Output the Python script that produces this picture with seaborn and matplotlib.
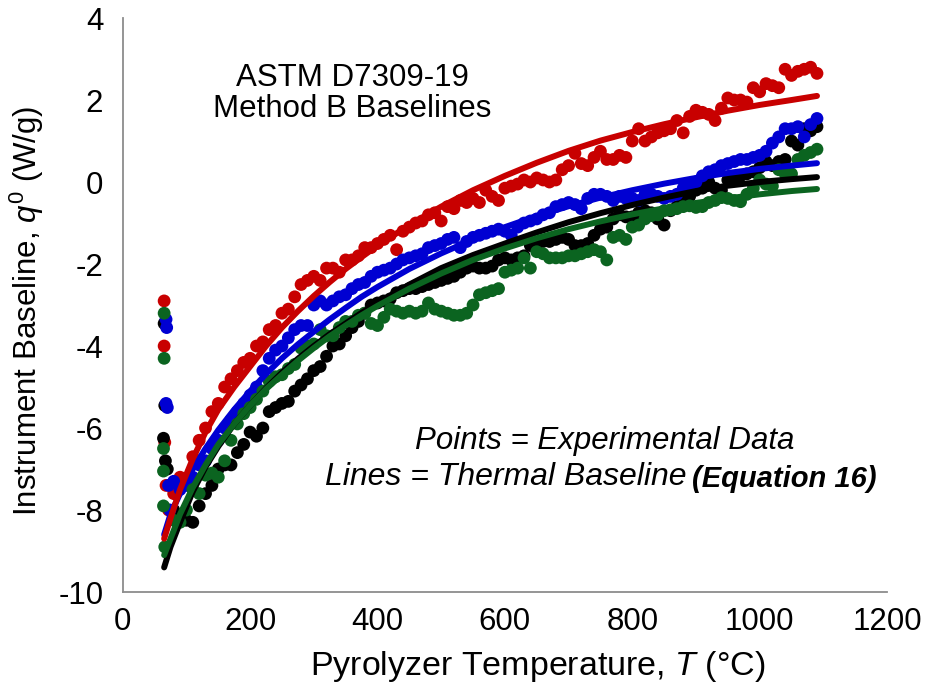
import pandas as pd
import matplotlib.pyplot as plt
import matplotlib.ticker as ticker
import seaborn as sns


# --- data ---
# experimental points (shared temperature grid, deg C)
temp_pts = [80, 90, 100, 110, 120, 130, 140, 150, 160, 170,
            180, 190, 200, 210, 220, 230, 240, 250, 260, 270,
            280, 290, 300, 310, 320, 330, 340, 350, 360, 370,
            380, 390, 400, 410, 420, 430, 440, 450, 460, 470,
            480, 490, 500, 510, 520, 530, 540, 550, 560, 570,
            580, 590, 600, 610, 620, 630, 640, 650, 660, 670,
            680, 690, 700, 710, 720, 730, 740, 750, 760, 770,
            780, 790, 800, 810, 820, 830, 840, 850, 860, 870,
            880, 890, 900, 910, 920, 930, 940, 950, 960, 970,
            980, 990, 1000, 1010, 1020, 1030, 1040, 1050, 1060, 1070,
            1080, 1090]

red_pts = [-7.6, -7.2, -7.3, -6.7, -6.3, -6.0, -5.6, -5.4, -5.0, -4.8,
           -4.6, -4.4, -4.3, -4.0, -3.9, -3.6, -3.5, -3.2, -3.1, -2.8,
           -2.5, -2.4, -2.3, -2.4, -2.1, -2.1, -2.2, -1.9, -1.9, -1.8,
           -1.6, -1.6, -1.5, -1.4, -1.3, -1.65, -1.2, -1.1, -1.0, -0.95,
           -0.8, -0.75, -0.95, -0.6, -0.65, -0.45, -0.5, -0.4, -0.5, -0.2,
           -0.35, -0.45, -0.15, -0.1, -0.05, 0.05, 0.0, 0.1, 0.05, 0.0,
           0.05, 0.3, 0.4, 0.7, 0.45, 0.4, 0.6, 0.75, 0.55, 0.55,
           0.65, 0.6, 1.0, 1.3, 1.0, 1.1, 1.2, 1.25, 1.3, 1.5,
           1.2, 1.6, 1.75, 1.7, 1.65, 1.5, 1.8, 2.05, 2.0, 2.0,
           1.95, 2.3, 2.2, 2.4, 2.35, 2.3, 2.75, 2.6, 2.7, 2.75,
           2.8, 2.65]

blue_pts = [-7.3, -7.5, -7.4, -7.2, -6.9, -6.8, -6.5, -6.3, -6.0, -5.8,
            -5.6, -5.4, -5.2, -5.0, -4.6, -4.3, -4.1, -4.0, -3.8, -3.6,
            -3.5, -3.5, -3.0, -2.9, -3.0, -2.9, -2.8, -2.75, -2.6, -2.5,
            -2.45, -2.3, -2.2, -2.15, -2.1, -2.0, -1.9, -1.85, -1.8, -1.75,
            -1.6, -1.55, -1.5, -1.4, -1.35, -1.6, -1.45, -1.35, -1.3, -1.25,
            -1.2, -1.15, -1.2, -1.3, -1.1, -1.0, -0.95, -0.9, -0.8, -0.75,
            -0.6, -0.55, -0.5, -0.55, -0.65, -0.4, -0.3, -0.3, -0.35, -0.45,
            -0.35, -0.4, -0.4, -0.45, -0.3, -0.3, -0.35, -0.4, -0.35, -0.3,
            -0.15, -0.1, 0.0, 0.15, 0.25, 0.3, 0.4, 0.45, 0.5, 0.55,
            0.55, 0.6, 0.65, 0.75, 0.95, 1.1, 1.3, 1.3, 1.35, 1.1,
            1.4, 1.55]

black_pts = [-8.0, -8.2, -8.25, -8.3, -7.9, -7.6, -7.4, -7.0, -6.9, -6.9,
             -6.6, -6.4, -6.1, -6.2, -6.0, -5.6, -5.5, -5.4, -5.35, -5.1,
             -4.95, -4.8, -4.6, -4.5, -4.25, -4.0, -3.95, -3.75, -3.55, -3.4,
             -3.2, -3.0, -2.95, -2.9, -2.85, -2.7, -2.65, -2.6, -2.6, -2.55,
             -2.5, -2.45, -2.4, -2.35, -2.3, -2.2, -2.1, -2.05, -2.1, -2.1,
             -2.05, -1.9, -1.85, -1.9, -1.85, -1.8, -1.55, -1.5, -1.45, -1.45,
             -1.4, -1.35, -1.4, -1.55, -1.55, -1.5, -1.3, -1.15, -1.1, -0.9,
             -0.8, -0.85, -0.85, -0.75, -0.7, -0.75, -0.9, -1.05, -0.7, -0.6,
             -0.45, -0.35, -0.2, -0.15, 0.0, -0.15, -0.2, 0.05, 0.1, 0.15,
             0.2, 0.25, 0.35, 0.5, 0.4, 0.5, 0.55, 1.0, 0.9, 1.3,
             1.25, 1.35]

green_pts = [-8.25, -8.3, -8.0, -7.5, -7.6, -7.15, -7.1, -7.2, -6.8, -6.3,
             -5.9, -5.65, -5.5, -5.3, -5.1, -4.86, -4.75, -4.7, -4.55, -4.45,
             -4.05, -4.0, -3.95, -3.6, -3.75, -3.75, -3.55, -3.4, -3.4, -3.25,
             -3.2, -3.45, -3.5, -3.3, -3.1, -3.15, -3.2, -3.15, -3.2, -3.15,
             -2.95, -3.1, -3.15, -3.2, -3.25, -3.25, -3.2, -3.0, -2.75, -2.7,
             -2.65, -2.6, -2.2, -2.15, -2.1, -1.85, -2.1, -1.7, -1.75, -1.85,
             -1.85, -1.85, -1.8, -1.8, -1.75, -1.7, -1.65, -1.7, -1.9, -1.35,
             -1.3, -1.4, -1.1, -1.05, -0.9, -0.82, -0.8, -0.7, -0.68, -0.65,
             -0.6, -0.58, -0.62, -0.6, -0.5, -0.45, -0.38, -0.4, -0.45, -0.48,
             -0.3, -0.15, 0.05, -0.05, -0.1, 0.3, 0.2, 0.2, 0.55, 0.65,
             0.72, 0.8]

# start-up transient points near 65 C
red_t0 = [65, 65, 66, 68, 72]
red_q0 = [-2.9, -4.0, -6.35, -7.4, -8.0]
blue_t0 = [68, 69, 68, 70, 72, 74]
blue_q0 = [-3.35, -3.55, -5.4, -5.5, -7.4, -8.0]
black_t0 = [65, 66, 64, 67, 70]
black_q0 = [-3.45, -5.45, -6.25, -6.8, -7.0]
green_t0 = [65, 65, 64, 64, 64, 66]
green_q0 = [-3.2, -4.3, -6.5, -7.05, -7.9, -8.9]

# thermal baseline curves (Equation 16)
temp_fit = [65, 75, 90, 110, 130, 150, 175, 200, 225, 250,
            275, 300, 325, 350, 375, 400, 450, 500, 550, 600,
            650, 700, 750, 800, 850, 900, 950, 1000, 1050, 1090]
red_fit = [-8.7, -8.2, -7.5, -6.75, -6.1, -5.55, -5.0, -4.5, -4.0, -3.55,
           -3.15, -2.78, -2.44, -2.12, -1.83, -1.55, -1.05, -0.6, -0.2, 0.15,
           0.47, 0.76, 1.01, 1.22, 1.41, 1.58, 1.74, 1.88, 2.0, 2.1]
blue_fit = [-8.6, -8.1, -7.6, -7.0, -6.5, -6.05, -5.55, -5.1, -4.68, -4.3,
            -3.96, -3.65, -3.35, -3.07, -2.8, -2.56, -2.12, -1.74, -1.4, -1.1,
            -0.83, -0.59, -0.38, -0.2, -0.04, 0.1, 0.22, 0.32, 0.4, 0.46]
black_fit = [-9.4, -8.9, -8.3, -7.55, -6.95, -6.45, -5.9, -5.45, -5.03, -4.65,
             -4.31, -4.0, -3.71, -3.45, -3.19, -2.95, -2.5, -2.1, -1.78, -1.5,
             -1.23, -0.98, -0.76, -0.56, -0.38, -0.22, -0.09, 0.0, 0.07, 0.12]
green_fit = [-9.1, -8.7, -8.1, -7.45, -6.9, -6.4, -5.9, -5.45, -5.05, -4.7,
             -4.36, -4.05, -3.76, -3.5, -3.25, -3.02, -2.6, -2.23, -1.9, -1.62,
             -1.37, -1.15, -0.96, -0.79, -0.64, -0.51, -0.4, -0.3, -0.22, -0.17]

colors = {'red': '#c80000', 'blue': '#0000d2', 'black': '#000000', 'green': '#0b6420'}

# --- long tables for seaborn ---
pts = {'red': (red_t0, red_q0, red_pts), 'black': (black_t0, black_q0, black_pts),
       'blue': (blue_t0, blue_q0, blue_pts), 'green': (green_t0, green_q0, green_pts)}
rows = []
for name, (t0, q0, qq) in pts.items():
    for t, q in zip(t0 + temp_pts, q0 + qq):
        rows.append({'T': t, 'q': q, 'run': name})
df_pts = pd.DataFrame(rows)

fits = {'black': black_fit, 'green': green_fit, 'blue': blue_fit, 'red': red_fit}
rows = []
for name, qq in fits.items():
    for t, q in zip(temp_fit, qq):
        rows.append({'T': t, 'q': q, 'run': name})
df_fit = pd.DataFrame(rows)

# --- plotting ---
sns.set_style('white')
plt.rcParams['font.family'] = ['Liberation Sans', 'DejaVu Sans']
plt.rcParams['text.color'] = 'black'
plt.rcParams['axes.labelcolor'] = 'black'
plt.rcParams['axes.unicode_minus'] = False
plt.rcParams['mathtext.fontset'] = 'custom'
plt.rcParams['mathtext.rm'] = 'Liberation Sans'
plt.rcParams['mathtext.it'] = 'Liberation Sans:italic'

fig = plt.figure(figsize=(9.27, 6.96), dpi=100)
ax = fig.add_axes([0.1324, 0.1494, 0.8245, 0.8247])

sns.scatterplot(data=df_pts, x='T', y='q', hue='run', palette=colors,
                s=85, linewidth=0, legend=False, ax=ax, zorder=2)
sns.lineplot(data=df_fit, x='T', y='q', hue='run', palette=colors,
             linewidth=4.3, legend=False, ax=ax, zorder=3, sort=True)
for ln in ax.lines:
    ln.set_solid_capstyle('round')
    ln.set_solid_joinstyle('round')

ax.set_xlim(0, 1200)
ax.set_ylim(-10, 4)
ax.xaxis.set_major_locator(ticker.MultipleLocator(200))
ax.xaxis.set_minor_locator(ticker.MultipleLocator(50))
ax.yaxis.set_major_locator(ticker.MultipleLocator(2))
ax.yaxis.set_minor_locator(ticker.MultipleLocator(0.5))

sns.despine(ax=ax)
for side in ['left', 'bottom']:
    ax.spines[side].set_color('#8c8c8c')
    ax.spines[side].set_linewidth(1.3)
ax.tick_params(which='both', direction='in', color='#8c8c8c', width=1.2, labelsize=22.5,
               labelcolor='black')
ax.tick_params(which='major', length=11)
ax.tick_params(which='minor', length=6)
ax.tick_params(axis='y', which='both', pad=14)
ax.tick_params(axis='x', which='both', pad=11)

ax.set_xlabel('Pyrolyzer Temperature, $T$ (°C)', fontsize=24.5)
ax.set_ylabel('Instrument Baseline, $q^0$ (W/g)', fontsize=22.5)
ax.xaxis.set_label_coords(0.543, -0.10)
ax.yaxis.set_label_coords(-0.10, 0.49)

ax.text(0.300, 0.868, 'ASTM D7309-19\nMethod B Baselines', transform=ax.transAxes,
        ha='center', va='center', fontsize=22.5, linespacing=1.05)
ax.text(0.631, 0.263, 'Points = Experimental Data', transform=ax.transAxes,
        ha='center', va='center', fontsize=22.5, style='italic')
ax.text(0.737, 0.200, 'Lines = Thermal Baseline', transform=ax.transAxes,
        ha='right', va='center', fontsize=23, style='italic')
ax.text(0.745, 0.197, '(Equation 16)', transform=ax.transAxes,
        ha='left', va='center', fontsize=21, style='italic', fontweight='bold')

fig.savefig('out.png', dpi=100)
